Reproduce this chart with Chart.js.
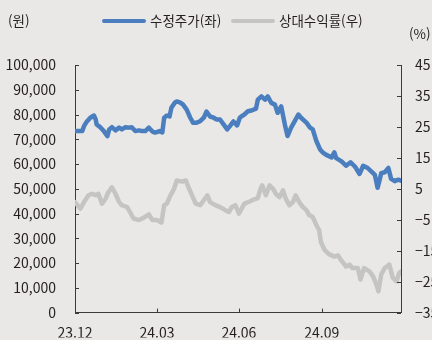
<!DOCTYPE html>
<html lang="ko">
<head>
<meta charset="utf-8">
<script src="https://cdn.jsdelivr.net/npm/chart.js@4/dist/chart.umd.min.js"></script>
<style>
  html, body { margin: 0; padding: 0; background: #e9e8e6; }
  #wrap { position: relative; width: 432px; height: 340px; overflow: hidden; background: #e9e8e6;
          font-family: "Noto Sans CJK KR", "Noto Sans", sans-serif; color: #231f20; }
  canvas { position: absolute; left: 0; top: 0; }
  .lbl { position: absolute; font-size: 13.5px; line-height: 16px; white-space: nowrap; }
  .swatch { position: absolute; height: 4px; border-radius: 2px; }
</style>
</head>
<body>
<div id="wrap">
  <canvas id="c" width="432" height="340"></canvas>
  <div class="lbl" style="left:8px; top:12px;">(원)</div>
  <div class="swatch" style="left:102px; top:19px; width:44px; background:#4a7ebf;"></div>
  <div class="lbl" style="left:150px; top:12px;">수정주가(좌)</div>
  <div class="swatch" style="left:231px; top:19px; width:44px; background:#c4c4c3;"></div>
  <div class="lbl" style="left:279px; top:12px;">상대수익률(우)</div>
  <div class="lbl" style="left:409px; top:25px;">(%)</div>
</div>
<script>
// Days counted from 2023-12-01
const priceDays = [0, 8, 10, 13, 17, 21, 23, 24, 28, 32, 36, 38, 41, 45, 49, 52, 56, 60, 63, 67, 71, 74, 78, 82, 86, 89, 94, 97, 99, 102, 105, 107, 111, 113, 117, 120, 124, 128, 131, 135, 139, 143, 146, 150, 154, 157, 161, 165, 169, 172, 176, 180, 183, 185, 188, 192, 196, 201, 203, 207, 211, 214, 218, 222, 225, 229, 233, 236, 240, 244, 248, 251, 257, 261, 264, 268, 272, 275, 279, 285, 288, 290, 296, 301, 306, 311, 316, 320, 325, 331, 333, 336, 338, 340, 344, 348, 351, 355, 359, 362];
// Adjusted close, KRW
const priceValues = [73300, 73300, 75300, 77100, 78700, 79600, 78000, 76000, 74900, 73300, 71300, 74000, 74900, 73600, 74700, 74000, 74900, 74700, 74900, 73300, 73600, 73300, 73300, 74700, 73100, 72700, 73300, 72800, 78700, 79600, 79200, 82700, 84900, 85300, 84800, 84000, 82000, 78700, 76700, 76700, 77300, 78700, 81200, 79200, 78700, 78000, 78000, 76000, 74000, 75300, 77200, 75600, 78700, 79300, 80000, 81300, 81600, 82400, 86000, 87300, 86000, 87300, 84700, 84000, 80700, 83300, 76000, 71300, 74700, 77300, 80000, 78700, 76700, 74700, 74000, 69300, 66000, 64700, 63700, 62700, 64700, 62400, 61100, 59300, 60700, 58900, 56000, 59300, 58400, 56300, 55600, 50400, 53200, 56300, 56700, 58400, 54000, 53100, 53700, 53300];

const relDays = [0, 6, 10, 15, 19, 23, 26, 30, 34, 37, 41, 45, 49, 52, 58, 61, 65, 71, 76, 82, 86, 91, 96, 99, 102, 106, 110, 113, 119, 123, 126, 130, 134, 139, 143, 147, 150, 156, 161, 167, 171, 174, 178, 182, 186, 188, 194, 199, 203, 206, 208, 212, 216, 220, 223, 227, 231, 234, 238, 242, 245, 249, 253, 257, 260, 264, 268, 271, 273, 277, 282, 288, 292, 295, 301, 305, 308, 314, 317, 321, 327, 331, 334, 337, 340, 344, 349, 353, 357, 360, 362];
// Relative return, %
const relValues = [0.7, -1.4, 0.7, 2.9, 3.4, 2.9, 3.4, 0.2, 1.8, 3.9, 5.5, 3.4, 0.7, -0.3, -0.9, -2.5, -4.6, -5.1, -4.4, -3.3, -5.1, -5.1, -5.9, -0.3, 0.2, 2.9, 5.0, 7.7, 7.3, 7.7, 5.5, 2.9, 0.2, -0.3, 1.3, 2.9, 0.7, -0.3, -0.9, -1.9, -2.5, -0.9, -0.3, -3.0, -0.9, 0.2, 0.9, 1.6, 2.0, 5.0, 6.1, 2.9, 6.1, 5.0, 3.4, 2.3, 4.5, 1.8, -0.3, 0.7, 2.9, 0.7, -0.9, -1.9, -3.5, -4.1, -6.7, -8.3, -12.1, -14.7, -16.1, -16.9, -16.5, -17.9, -20.1, -19.5, -20.6, -20.6, -24.3, -20.6, -21.7, -23.3, -25.4, -28.1, -22.7, -20.6, -19.5, -23.8, -24.9, -22.2, -21.7];

const xTickDays = [0, 91, 182, 274];
const xTickLabels = ['23.12', '24.03', '24.06', '24.09'];

const FONT = '"Noto Sans CJK KR", "Noto Sans", sans-serif';
const TEXT = '#231f20';
const AXIS = '#3a3a3a';

const toPoints = (xs, ys) => xs.map((x, i) => ({ x, y: ys[i] }));

// Short tick marks drawn on the inner side of every axis
const innerTicks = {
  id: 'innerTicks',
  afterDraw(chart) {
    const ctx = chart.ctx;
    const { x, yL, yR } = chart.scales;
    const len = 4;
    ctx.save();
    ctx.strokeStyle = AXIS;
    ctx.lineWidth = 1;
    ctx.beginPath();
    yL.ticks.forEach(t => {
      const p = Math.round(yL.getPixelForValue(t.value)) + 0.5;
      ctx.moveTo(yL.right, p); ctx.lineTo(yL.right + len, p);
    });
    yR.ticks.forEach(t => {
      const p = Math.round(yR.getPixelForValue(t.value)) + 0.5;
      ctx.moveTo(yR.left, p); ctx.lineTo(yR.left - len, p);
    });
    x.ticks.forEach(t => {
      const p = Math.round(x.getPixelForValue(t.value)) + 0.5;
      ctx.moveTo(p, x.top); ctx.lineTo(p, x.top - len);
    });
    ctx.stroke();
    ctx.restore();
  }
};

new Chart(document.getElementById('c'), {
  type: 'line',
  data: {
    datasets: [
      {
        label: '수정주가(좌)',
        data: toPoints(priceDays, priceValues),
        yAxisID: 'yL',
        borderColor: '#4a7ebf',
        borderWidth: 4.5,
        pointRadius: 0,
        tension: 0,
        borderJoinStyle: 'round',
        borderCapStyle: 'round'
      },
      {
        label: '상대수익률(우)',
        data: toPoints(relDays, relValues),
        yAxisID: 'yR',
        borderColor: '#c4c4c3',
        borderWidth: 4.5,
        pointRadius: 0,
        tension: 0,
        borderJoinStyle: 'round',
        borderCapStyle: 'round'
      }
    ]
  },
  options: {
    responsive: false,
    animation: false,
    events: [],
    layout: { padding: { top: 65, left: 0, right: 0, bottom: 0 } },
    plugins: { legend: { display: false }, tooltip: { enabled: false } },
    scales: {
      x: {
        type: 'linear',
        min: 0,
        max: 362,
        afterFit(s) { s.height = 25; },
        afterBuildTicks(s) { s.ticks = xTickDays.map(v => ({ value: v })); },
        grid: { display: false, drawTicks: false },
        border: { display: true, color: AXIS, width: 1 },
        ticks: {
          padding: 12,
          autoSkip: false,
          maxRotation: 0,
          color: TEXT,
          font: { family: FONT, size: 14 },
          callback: v => xTickLabels[xTickDays.indexOf(v)]
        }
      },
      yL: {
        position: 'left',
        min: 0,
        max: 100000,
        afterFit(s) { s.width = 75; },
        grid: { display: false, drawTicks: false },
        border: { display: true, color: AXIS, width: 1 },
        ticks: {
          stepSize: 10000,
          padding: 19,
          color: TEXT,
          font: { family: FONT, size: 14 },
          callback: v => v.toLocaleString('en-US')
        }
      },
      yR: {
        position: 'right',
        min: -35,
        max: 45,
        afterFit(s) { s.width = 31; },
        grid: { display: false, drawTicks: false },
        border: { display: true, color: AXIS, width: 1 },
        ticks: {
          stepSize: 10,
          padding: 14,
          color: TEXT,
          font: { family: FONT, size: 14 },
          callback: v => String(v).replace('-', '\u2212')
        }
      }
    }
  },
  plugins: [innerTicks]
});
</script>
</body>
</html>
